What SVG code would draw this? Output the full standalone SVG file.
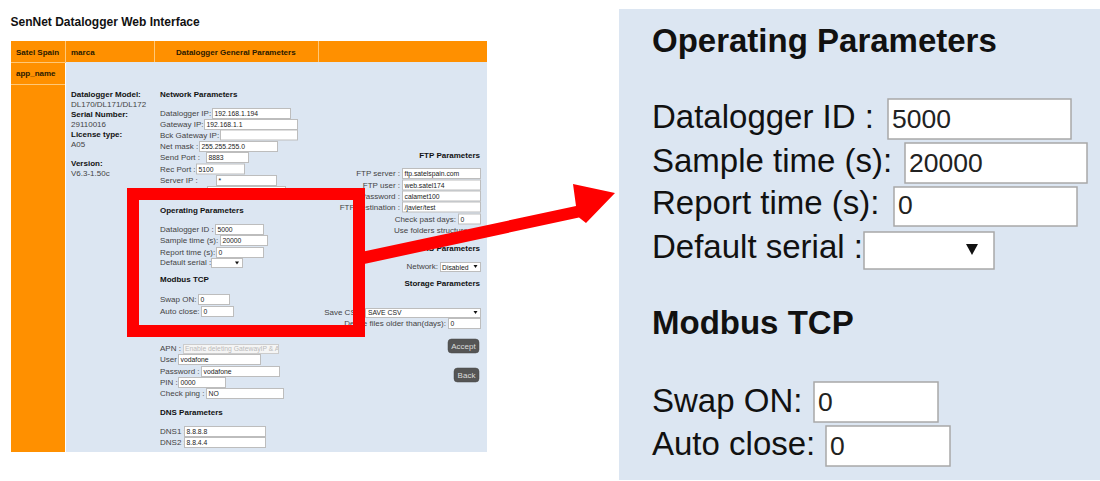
<svg xmlns="http://www.w3.org/2000/svg" width="1100" height="481" viewBox="0 0 1100 481">
<style>
text{font-family:"Liberation Sans",Arial,sans-serif}
.t{font-size:12px;font-weight:bold;fill:#111}
.hd{font-size:8px;font-weight:bold;fill:#2a1a00}
.h{font-size:8px;font-weight:bold;fill:#111}
.l{font-size:8px;fill:#444}
.v{font-size:6.8px;fill:#222}
.f{fill:#fff;stroke:#bdbdbd;stroke-width:1}
.btn{fill:#555;stroke:#444;stroke-width:0.5}
.bt{font-size:8px;fill:#ddd;text-anchor:middle}
.e{text-anchor:end}
.BH{font-size:33px;font-weight:bold;fill:#111}
.BL{font-size:33px;fill:#111}
.BV{font-size:26.5px;fill:#222}
.F{fill:#fff;stroke:#a8a8a8;stroke-width:1.5}
.org{fill:#FF9000}
.blue{fill:#DCE6F2}
.sep{stroke:#FFC878;stroke-width:1}
</style>
<defs>
<clipPath id="apnclip"><rect x="183" y="344" width="95" height="9"/></clipPath>
</defs>
<rect x="0" y="0" width="1100" height="481" fill="#fff"/>

<g id="web-page">
<text class="t" x="10.5" y="26">SenNet Datalogger Web Interface</text>
<rect class="org" x="11" y="41" width="476" height="21"/>
<rect class="blue" x="66" y="62" width="421" height="390"/>
<rect class="org" x="11" y="62" width="54" height="390"/>
<line class="sep" x1="65.5" y1="41" x2="65.5" y2="62"/>
<line class="sep" x1="154.5" y1="41" x2="154.5" y2="62"/>
<line class="sep" x1="318.5" y1="41" x2="318.5" y2="62"/>
<line class="sep" x1="11" y1="62.5" x2="66" y2="62.5"/>
<line class="sep" x1="11" y1="84.5" x2="65" y2="84.5"/>
<text class="hd" x="16" y="54.5">Satel Spain</text>
<text class="hd" x="71" y="54.5">marca</text>
<text class="hd" x="176" y="54.5">Datalogger General Parameters</text>
<text class="hd" x="16" y="75.5">app_name</text>
</g>

<g id="device-info">
<text class="h" x="71" y="97">Datalogger Model:</text>
<text class="l" x="71" y="107">DL170/DL171/DL172</text>
<text class="h" x="71" y="117">Serial Number:</text>
<text class="l" x="71" y="127">29110016</text>
<text class="h" x="71" y="137">License type:</text>
<text class="l" x="71" y="147">A05</text>
<text class="h" x="71" y="166">Version:</text>
<text class="l" x="71" y="176">V6.3-1.50c</text>
</g>

<g id="network-parameters">
<text class="h" x="160" y="97">Network Parameters</text>
<text class="l" x="160" y="116">Datalogger IP:</text>
<rect class="f" x="212.5" y="108.5" width="78" height="10"/><text class="v" x="214.5" y="116">192.168.1.194</text>
<text class="l" x="160" y="127">Gateway IP:</text>
<rect class="f" x="204.5" y="119.5" width="93" height="10"/><text class="v" x="206.5" y="127">192.168.1.1</text>
<text class="l" x="160" y="137.5">Bck Gateway IP:</text>
<rect class="f" x="220.5" y="130" width="77" height="10"/>
<text class="l" x="160" y="149">Net mask :</text>
<rect class="f" x="199.5" y="141.5" width="78" height="10"/><text class="v" x="201.5" y="149">255.255.255.0</text>
<text class="l" x="160" y="160">Send Port :</text>
<rect class="f" x="206.5" y="152.5" width="42" height="10"/><text class="v" x="208.5" y="160">8883</text>
<text class="l" x="160" y="171.5">Rec Port :</text>
<rect class="f" x="196.5" y="164" width="48" height="10"/><text class="v" x="198.5" y="171.5">5100</text>
<text class="l" x="160" y="183">Server IP :</text>
<rect class="f" x="216.5" y="175.5" width="60" height="10"/><text class="v" x="218.5" y="183">*</text>
<rect class="f" x="207.5" y="186.5" width="78" height="10"/>
</g>

<g id="operating-parameters-small">
<text class="h" x="160" y="213">Operating Parameters</text>
<text class="l" x="160" y="232">Datalogger ID :</text>
<rect class="f" x="215.5" y="224.5" width="48" height="10"/><text class="v" x="217.5" y="232">5000</text>
<text class="l" x="160" y="243">Sample time (s):</text>
<rect class="f" x="220.5" y="235.5" width="47" height="10"/><text class="v" x="222.5" y="243">20000</text>
<text class="l" x="160" y="255">Report time (s):</text>
<rect class="f" x="216.5" y="247.5" width="47" height="10"/><text class="v" x="218.5" y="255">0</text>
<text class="l" x="160" y="265">Default serial :</text>
<rect class="f" x="211.5" y="258.5" width="31" height="9"/>
<polygon points="235,261.5 239,261.5 237,264.5" fill="#111"/>
<text class="h" x="160" y="282">Modbus TCP</text>
<text class="l" x="160" y="302">Swap ON:</text>
<rect class="f" x="198.5" y="294.5" width="31" height="10"/><text class="v" x="200.5" y="302">0</text>
<text class="l" x="160" y="314">Auto close:</text>
<rect class="f" x="201.5" y="306.5" width="32" height="10"/><text class="v" x="203.5" y="314">0</text>
</g>

<g id="ftp-parameters">
<text class="h e" x="480" y="158">FTP Parameters</text>
<text class="l e" x="400" y="176">FTP server :</text>
<rect class="f" x="402.5" y="168.5" width="78" height="10"/><text class="v" x="404.5" y="176">ftp.satelspain.com</text>
<text class="l e" x="400" y="188">FTP user :</text>
<rect class="f" x="402.5" y="180" width="78" height="10"/><text class="v" x="404.5" y="188">web.satel174</text>
<text class="l e" x="400" y="199">Password :</text>
<rect class="f" x="402.5" y="191" width="78" height="10"/><text class="v" x="404.5" y="199">calamet100</text>
<text class="l e" x="400" y="210">FTP destination :</text>
<rect class="f" x="402.5" y="202" width="78" height="10"/><text class="v" x="404.5" y="210">/javier/test</text>
<text class="l e" x="456" y="222">Check past days:</text>
<rect class="f" x="458.5" y="214" width="22" height="10"/><text class="v" x="460.5" y="222">0</text>
<text class="l" x="394" y="233">Use folders structure</text>
<text class="h e" x="480" y="251">GPRS Parameters</text>
<text class="l e" x="438" y="269">Network:</text>
<rect class="f" x="440.5" y="262.5" width="40" height="9"/><text class="v" x="442" y="269.5">Disabled</text>
<polygon points="473.5,265 477.5,265 475.5,268" fill="#111"/>
</g>

<g id="storage-parameters">
<text class="h e" x="480" y="286">Storage Parameters</text>
<text class="l e" x="363" y="315">Save CSV:</text>
<rect class="f" x="365.5" y="308.5" width="115" height="9"/><text class="v" x="368" y="315">SAVE CSV</text>
<polygon points="473.5,311 477.5,311 475.5,314" fill="#111"/>
<text class="l e" x="446" y="325.5">Delete files older than(days):</text>
<rect class="f" x="448.5" y="318.5" width="32" height="10"/><text class="v" x="450.5" y="326">0</text>
</g>

<g id="buttons">
<rect class="btn" x="448" y="339" width="31" height="14" rx="3.5"/><text class="bt" x="463.5" y="349">Accept</text>
<rect class="btn" x="454" y="368" width="25" height="14" rx="3.5"/><text class="bt" x="466.5" y="378">Back</text>
</g>

<g id="modem-fields">
<text class="l" x="160" y="351">APN :</text>
<rect x="183.5" y="344.5" width="95" height="9" fill="#f5f5f5" stroke="#ccc" stroke-width="1"/>
<text x="185" y="351" font-size="6.8" fill="#bbb" clip-path="url(#apnclip)">Enable deleting GatewayIP &amp; Ad</text>
<text class="l" x="160" y="362">User :</text>
<rect class="f" x="178.5" y="354.5" width="82" height="10"/><text class="v" x="180.5" y="362">vodafone</text>
<text class="l" x="160" y="374">Password :</text>
<rect class="f" x="201.5" y="366.5" width="78" height="10"/><text class="v" x="203.5" y="374">vodafone</text>
<text class="l" x="160" y="385">PIN :</text>
<rect class="f" x="178.5" y="377.5" width="47" height="10"/><text class="v" x="180.5" y="385">0000</text>
<text class="l" x="160" y="396">Check ping :</text>
<rect class="f" x="206.5" y="388.5" width="77" height="10"/><text class="v" x="208.5" y="396">NO</text>
</g>

<g id="dns-parameters">
<text class="h" x="160" y="415">DNS Parameters</text>
<text class="l" x="160" y="434">DNS1 :</text>
<rect class="f" x="184.5" y="426.5" width="81" height="10"/><text class="v" x="186.5" y="434">8.8.8.8</text>
<text class="l" x="160" y="445">DNS2 :</text>
<rect class="f" x="184.5" y="437.5" width="81" height="10"/><text class="v" x="186.5" y="445">8.8.4.4</text>
</g>

<g id="highlight">
<rect x="133" y="194" width="226" height="137" fill="none" stroke="#FF0000" stroke-width="12"/>
</g>

<g id="connectors">
<polygon points="356.5,253 576,206 573,184 615,193 586,223 579,217.5 359.5,265" fill="#FF0000"/>
</g>

<g id="zoomed-panel">
<rect class="blue" x="619" y="9" width="481" height="471"/>
<text class="BH" x="652" y="52">Operating Parameters</text>
<text class="BL" x="652" y="128">Datalogger ID :</text>
<rect class="F" x="888" y="99" width="183" height="40"/><text class="BV" x="892" y="128">5000</text>
<text class="BL" x="652" y="172">Sample time (s):</text>
<rect class="F" x="905" y="143" width="182" height="40"/><text class="BV" x="909" y="172">20000</text>
<text class="BL" x="652" y="214">Report time (s):</text>
<rect class="F" x="894" y="187" width="183" height="39"/><text class="BV" x="898" y="214">0</text>
<text class="BL" x="652" y="258">Default serial :</text>
<rect class="F" x="864" y="232" width="130" height="37"/>
<polygon points="966,244 978,244 972,255" fill="#111"/>
<text class="BH" x="652" y="334">Modbus TCP</text>
<text class="BL" x="652" y="412">Swap ON:</text>
<rect class="F" x="814" y="382" width="124" height="40"/><text class="BV" x="818" y="411">0</text>
<text class="BL" x="652" y="455">Auto close:</text>
<rect class="F" x="826" y="426" width="124" height="40"/><text class="BV" x="830" y="455">0</text>
</g>
</svg>
